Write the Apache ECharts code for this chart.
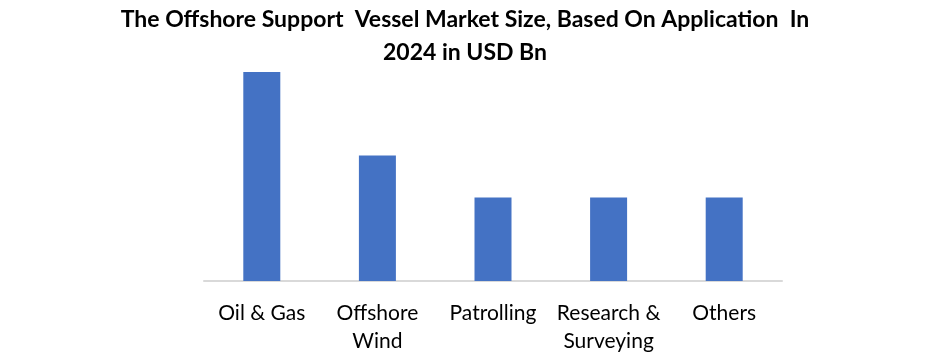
<!DOCTYPE html>
<html><head><meta charset="utf-8">
<script src="https://cdn.jsdelivr.net/npm/echarts@6/dist/echarts.min.js"></script>
<style>html,body{margin:0;padding:0;background:#fff}#c{width:930px;height:357px}</style>
</head><body><div id="c"></div>
<script>
const categories = ['Oil & Gas', 'Offshore\nWind', 'Patrolling', 'Research &\nSurveying', 'Others'];
const values = [5, 3, 2, 2, 2];
const titleText = 'The Offshore Support  Vessel Market Size, Based On Application  In\n2024 in USD Bn';

const chart = echarts.init(document.getElementById('c'));
chart.setOption({
  animation: false,
  backgroundColor: '#fff',
  title: {
    text: titleText,
    left: 'center',
    top: -2,
    textStyle: { fontFamily: 'Lato', fontWeight: 'bold', fontSize: 23, lineHeight: 33, color: '#000' }
  },
  grid: { left: 204, right: 148, top: 72, bottom: 76 },
  xAxis: {
    type: 'category',
    data: categories,
    axisLine: { lineStyle: { color: '#d9d9d9', width: 2 } },
    axisTick: { show: false },
    axisLabel: { fontFamily: 'Lato', fontSize: 21, color: '#000', lineHeight: 28, margin: 18, interval: 0 }
  },
  yAxis: { type: 'value', min: 0, max: 5, show: false, splitLine: { show: false } },
  series: [{ type: 'bar', data: values, barWidth: 37, itemStyle: { color: '#4472C4' } }]
});
</script></body></html>
